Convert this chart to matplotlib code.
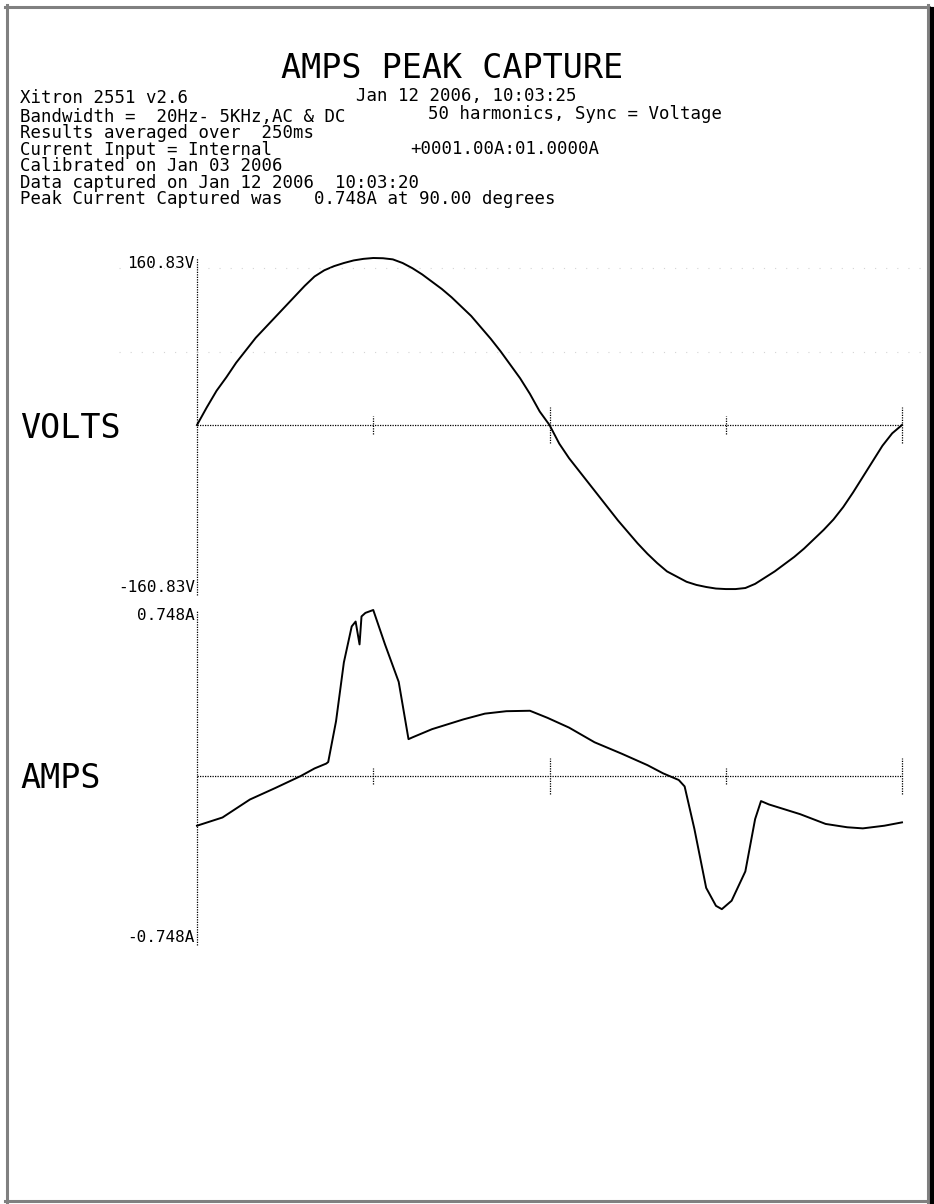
import numpy as np
import matplotlib
matplotlib.use("Agg")
import matplotlib.pyplot as plt
from matplotlib.lines import Line2D

# encabezado del informe
titulo = "AMPS PEAK CAPTURE"
lineas_izq = ["Xitron 2551 v2.6",
              "Bandwidth =  20Hz- 5KHz,AC & DC",
              "Results averaged over  250ms",
              "Current Input = Internal",
              "Calibrated on Jan 03 2006",
              "Data captured on Jan 12 2006  10:03:20",
              "Peak Current Captured was   0.748A at 90.00 degrees"]
lineas_der = ["Jan 12 2006, 10:03:25",
              "50 harmonics, Sync = Voltage",
              "+0001.00A:01.0000A"]

# escalas
v_max = 160.83
a_max = 0.748
marcas_grados = [90, 180, 270, 360]

# forma de onda de tension (grados, voltios)
grados_v = [0, 5, 10, 15, 20, 25, 30, 35, 40, 45, 50, 55, 60, 65, 70, 75, 80,
            85, 90, 95, 100, 105, 110, 115, 120, 125, 130, 135, 140, 145, 150,
            155, 160, 165, 170, 175, 180, 185, 190, 195, 200, 205, 210, 215,
            220, 225, 230, 235, 240, 245, 250, 255, 260, 265, 270, 275, 280,
            285, 290, 295, 300, 305, 310, 315, 320, 325, 330, 335, 340, 345,
            350, 355, 360]
voltios = [0, 17, 33, 46, 60, 72, 84, 94, 104, 114, 124, 134, 143, 149, 153,
           156, 158.5, 160, 160.83, 160.6, 159.5, 156, 151, 145, 138, 131, 123,
           114, 105, 94, 83, 71, 58, 45, 30, 13, 0, -18, -32, -44, -56, -68,
           -80, -92, -103, -114, -124, -133, -141, -146, -151, -154, -156,
           -157.5, -158, -158, -157, -153, -147, -141, -134, -127, -119, -110,
           -101, -91, -79, -65, -50, -35, -20, -8, 0]

# forma de onda de corriente (grados, amperios)
grados_a = [0, 13, 27, 40, 53, 60, 66, 67, 71, 75, 79, 81, 83, 84, 86, 90, 96,
            103, 108, 110, 120, 136, 147, 158, 170, 179, 190, 203, 217, 230,
            238, 246, 249, 254, 260, 265, 268, 273, 280, 285, 288, 292, 308,
            321, 332, 340, 351, 360]
amperios = [-0.224, -0.187, -0.106, -0.054, 0.0, 0.034, 0.056, 0.063, 0.247,
            0.512, 0.674, 0.696, 0.593, 0.719, 0.735, 0.748, 0.593, 0.424,
            0.166, 0.174, 0.211, 0.255, 0.281, 0.292, 0.294, 0.262, 0.218,
            0.152, 0.100, 0.049, 0.012, -0.018, -0.047, -0.239, -0.504,
            -0.585, -0.600, -0.562, -0.430, -0.194, -0.113, -0.128, -0.172,
            -0.216, -0.231, -0.236, -0.224, -0.209]

W, H = 934, 1204
fig = plt.figure(figsize=(W / 100, H / 100), dpi=100)
fig.patch.set_facecolor("white")
mono = "DejaVu Sans Mono"

def fx(px):
    return px / W

def fy(py):
    return 1 - py / H

# marco gris con sombra negra a la derecha
gris = "#808080"
fig.add_artist(Line2D([fx(5), fx(929)], [fy(6.5), fy(6.5)], color=gris, lw=2.2))
fig.add_artist(Line2D([fx(6.5), fx(6.5)], [fy(5), fy(1202)], color=gris, lw=2.2))
fig.add_artist(Line2D([fx(927.5), fx(927.5)], [fy(5), fy(1202)], color=gris, lw=2.2))
fig.add_artist(Line2D([fx(5), fx(929)], [fy(1201), fy(1201)], color=gris, lw=2.2))
fig.add_artist(Line2D([fx(931.5), fx(931.5)], [fy(9), fy(1204)], color="black", lw=3))

# textos
fig.text(fx(452), fy(78), titulo, ha="center", va="baseline", fontsize=24,
         family=mono)
ys_izq = [98, 117, 133, 150, 166, 183, 199]
for t, y in zip(lineas_izq, ys_izq):
    fig.text(fx(20), fy(y), t, ha="left", va="center", fontsize=12.5,
             family=mono)
for t, (x, y) in zip(lineas_der, [(356, 96), (428, 114), (410, 149)]):
    fig.text(fx(x), fy(y), t, ha="left", va="center", fontsize=12.5,
             family=mono)

fig.text(fx(20), fy(428), "VOLTS", ha="left", va="center", fontsize=24,
         family=mono)
fig.text(fx(20), fy(778), "AMPS", ha="left", va="center", fontsize=24,
         family=mono)


def panel(ax, x, y, ymax, unidad, fmt, corto, largo):
    ax.set_xlim(0, 360)
    ax.set_ylim(-ymax, ymax)
    ax.axis("off")
    punteado = dict(color="black", lw=0.9, linestyle=(0, (1, 1)))
    ax.plot([0, 0], [-ymax * 1.02, ymax], clip_on=False, **punteado)
    ax.plot([0, 360], [0, 0], clip_on=False, **punteado)
    for g in marcas_grados:
        h = largo if g % 180 == 0 else corto
        ax.plot([g, g], [-h, h], clip_on=False, **punteado)
    ax.plot(x, y, color="black", lw=1.4, clip_on=False)
    ax.annotate(fmt.format(ymax) + unidad, xy=(0, ymax), xytext=(-1.5, -4),
                textcoords="offset points", ha="right", va="center",
                fontsize=11.5, family=mono)
    ax.annotate(fmt.format(-ymax) + unidad, xy=(0, -ymax), xytext=(-1.5, 3),
                textcoords="offset points", ha="right", va="center",
                fontsize=11.5, family=mono)


ax_v = fig.add_axes([fx(197), fy(592), fx(705), 334 / H])
panel(ax_v, grados_v, voltios, v_max, "V", "{:.2f}", 8.2, 16.9)
# restos de rejilla tenue del papel
for nivel in [151, 70]:
    ax_v.plot([-40, 380], [nivel, nivel], color="#d4d4d4", lw=0.8,
              linestyle=(0, (1, 9)), clip_on=False)

ax_a = fig.add_axes([fx(197), fy(942), fx(705), 332 / H])
panel(ax_a, grados_a, amperios, a_max, "A", "{:.3f}", 0.036, 0.081)

fig.savefig("out.png", dpi=100, facecolor="white")
